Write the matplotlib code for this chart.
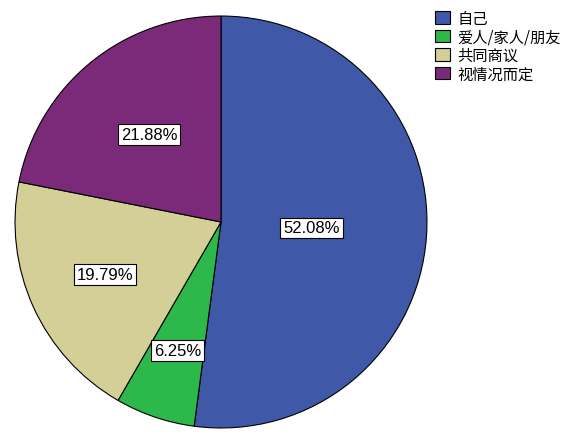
import numpy as np
import matplotlib.pyplot as plt

plt.rcParams['font.family'] = ['Noto Sans CJK SC', 'DejaVu Sans']

labels = ['自己', '爱人/家人/朋友', '共同商议', '视情况而定']
values = [52.08, 6.25, 19.79, 21.88]
colors = ['#3F58A8', '#2DB84B', '#D4CF97', '#7B2A7A']
label_r = [0.44, 0.66, 0.62, 0.55]

fig = plt.figure(figsize=(5.77, 4.39), dpi=100)
ax = fig.add_axes([14 / 577, 9 / 439, 414 / 577, 414 / 439])
wedges, _ = ax.pie(values, colors=colors, startangle=90, counterclock=False,
                   wedgeprops=dict(edgecolor='black', linewidth=0.8))
ax.set_xlim(-1.005, 1.005)
ax.set_ylim(-1.005, 1.005)
ax.set_aspect('equal')

for w, v, r in zip(wedges, values, label_r):
    mid = np.deg2rad((w.theta1 + w.theta2) / 2)
    ax.text(r * np.cos(mid), r * np.sin(mid), f'{v:.2f}%', ha='center', va='center',
            fontsize=12, family='Liberation Sans',
            bbox=dict(facecolor='white', edgecolor='black', linewidth=0.8, pad=2))

fig.legend(wedges, labels, loc='upper left', bbox_to_anchor=(0.735, 1.0),
           frameon=False, fontsize=11, handlelength=1.0, handleheight=0.9,
           labelspacing=0.1, handletextpad=0.5, borderaxespad=0.3)

fig.savefig('out.png', dpi=100)
